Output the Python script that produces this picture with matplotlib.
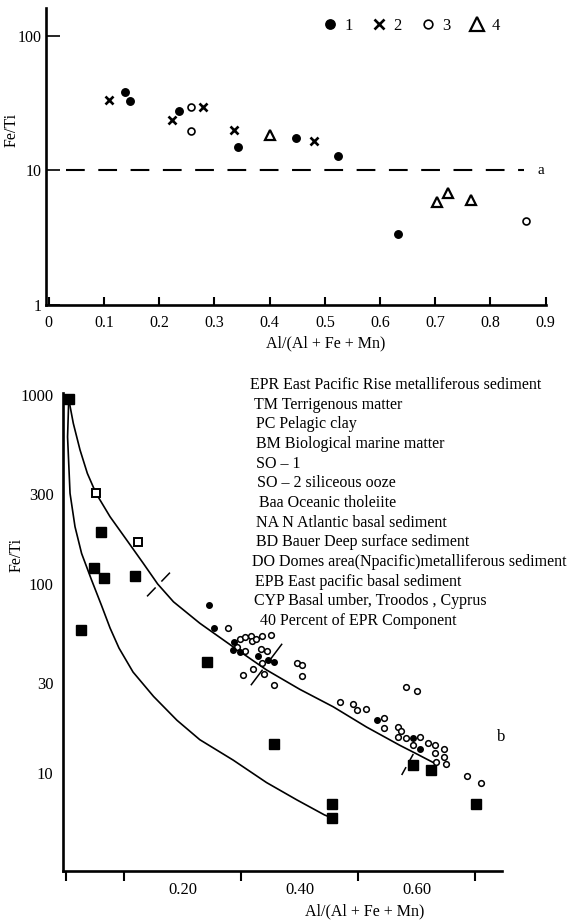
import numpy as np
import matplotlib
matplotlib.use("Agg")
import matplotlib.pyplot as plt
from matplotlib.path import Path

plt.rcParams['font.family'] = ['Liberation Serif', 'DejaVu Serif']

# ---------------- Panel a data ----------------
a_g1_x = [0.138, 0.147, 0.236, 0.343, 0.447, 0.523, 0.632]
a_g1_y = [38.4, 32.7, 27.4, 15.0, 17.3, 12.8, 3.36]
a_g2_x = [0.109, 0.223, 0.279, 0.336, 0.480]
a_g2_y = [33.3, 23.7, 29.6, 19.8, 16.5]
a_g3_x = [0.257, 0.257, 0.865]
a_g3_y = [29.6, 19.4, 4.22]
a_g4_x = [0.400, 0.703, 0.723, 0.765]
a_g4_y = [18.2, 5.78, 6.82, 6.05]
a_ref_level = 10
a_ref_x = [0.031, 0.861]
a_xticks = [0, 0.1, 0.2, 0.3, 0.4, 0.5, 0.6, 0.7, 0.8, 0.9]
a_xticklabels = ["0", "0.1", "0.2", "0.3", "0.4", "0.5", "0.6", "0.7", "0.8", "0.9"]
a_yticks = [1, 10, 100]
a_yticklabels = ["1", "10", "100"]
a_legend_labels = ["1", "2", "3", "4"]

# ---------------- Panel b data ----------------
b_fsq_x = [0.005, 0.060, 0.049, 0.065, 0.118, 0.026, 0.242, 0.355, 0.455, 0.455, 0.594, 0.624, 0.701]
b_fsq_y = [950, 189, 122, 108, 110, 57, 38.6, 14.2, 6.86, 5.78, 11.0, 10.4, 6.86]
b_osq_x = [0.052, 0.124]
b_osq_y = [302, 167]
b_dot_x = [0.244, 0.254, 0.288, 0.286, 0.298, 0.329, 0.346, 0.356, 0.531, 0.594, 0.605]
b_dot_y = [77.7, 58.4, 49.6, 44.8, 43.8, 41.6, 39.6, 38.7, 19.1, 15.4, 13.4]
b_circ_x = [0.277, 0.297, 0.306, 0.316, 0.318, 0.325, 0.335, 0.350, 0.292, 0.306,
            0.334, 0.344, 0.335, 0.320, 0.302, 0.339, 0.355, 0.395, 0.403, 0.403,
            0.469, 0.490, 0.498, 0.513, 0.543, 0.544, 0.581, 0.600, 0.567, 0.573,
            0.567, 0.582, 0.605, 0.594, 0.619, 0.631, 0.647, 0.631, 0.647, 0.632,
            0.649, 0.685, 0.709]
b_circ_y = [58.4, 51.2, 52.2, 53.1, 50.1, 51.2, 53.1, 54.0, 46.6, 44.4,
            45.1, 44.4, 38.0, 35.4, 33.1, 33.4, 29.2, 38.0, 37.1, 32.7,
            23.8, 23.3, 21.5, 21.9, 19.5, 17.2, 28.6, 27.3, 17.5, 16.7,
            15.5, 15.4, 15.5, 14.0, 14.4, 14.1, 13.4, 12.8, 12.2, 11.4,
            11.1, 9.64, 8.9]
# mixing curves
b_up_x = [0.005, 0.0128, 0.0243, 0.0368, 0.0516, 0.0756, 0.104, 0.1325, 0.157, 0.184,
          0.229, 0.286, 0.343, 0.400, 0.457, 0.514, 0.571, 0.600, 0.627]
b_up_y = [950, 708, 512, 385, 302, 227, 171, 128.5, 100, 80.5,
          62, 46.5, 35.1, 27.7, 22.4, 17.5, 14.0, 12.6, 11.4]
b_lo_x = [0.005, 0.003, 0.0072, 0.0157, 0.027, 0.044, 0.061, 0.0756, 0.0909, 0.1149,
          0.150, 0.190, 0.229, 0.286, 0.343, 0.395, 0.442, 0.455]
b_lo_y = [950, 600, 302, 201, 145, 105, 77, 58.5, 45.8, 34.2,
          25.4, 19.0, 15.0, 11.7, 8.9, 7.2, 6.0, 5.78]
# percent marks on the upper curve
b_mark_x = [0.157, 0.342, 0.583]
b_mark_y = [100, 37.8, 11.2]
b_mark_angle = [46, 53, 61]
b_mark_len = [33, 52, 24]
b_xticks = [0.2, 0.4, 0.6]
b_xticklabels = ["0.20", "0.40", "0.60"]
b_xminor = [0.0, 0.1, 0.3, 0.5, 0.7]
b_yticks = [10, 30, 100, 300, 1000]
b_yticklabels = ["10", "30", "100", "300", "1000"]
b_notes = ["EPR East Pacific Rise metalliferous sediment",
           "TM Terrigenous matter",
           "PC Pelagic clay",
           "BM Biological marine matter",
           "SO \u2013 1",
           "SO \u2013 2 siliceous ooze",
           "Baa Oceanic tholeiite",
           "NA N Atlantic basal sediment",
           "BD Bauer Deep surface sediment",
           "DO Domes area(Npacific)metalliferous sediment",
           "EPB East pacific basal sediment",
           "CYP Basal umber, Troodos , Cyprus",
           "40 Percent of EPR Component"]
b_note_indent = [0, 4, 6, 6, 6, 7, 9, 6, 6, 2, 5, 4, 10]

W, H = 569, 921
fig = plt.figure(figsize=(W / 100, H / 100), dpi=100)

# ---------------- Panel a ----------------
ax1 = fig.add_axes([45.7 / W, 1 - 305 / H, 500 / W, 297 / H])
ax1.set_yscale('log')
ax1.set_xlim(-0.0056, 0.9)
ax1.set_ylim(1, 160)
for s in ['top', 'right']:
    ax1.spines[s].set_visible(False)
for s in ['left', 'bottom']:
    ax1.spines[s].set_linewidth(1.9)

h1, = ax1.plot(a_g1_x, a_g1_y, 'o', ms=5.4, color='black', mec='black', ls='none')
h2, = ax1.plot(a_g2_x, a_g2_y, 'x', ms=6.2, mew=1.9, color='black', ls='none')
h3, = ax1.plot(a_g3_x, a_g3_y, 'o', ms=5.0, mfc='white', mec='black', mew=1.2, ls='none')
h4, = ax1.plot(a_g4_x, a_g4_y, '^', ms=7.5, mfc='white', mec='black', mew=1.6, ls='none')
ax1.plot(a_ref_x, [a_ref_level, a_ref_level], color='black', lw=1.5,
         dashes=(9, 6.5))
ax1.text(0.886, a_ref_level, "a", fontsize=11, va='center', ha='left')

ax1.set_xticks(a_xticks)
ax1.set_xticklabels(a_xticklabels)
ax1.set_yticks(a_yticks)
ax1.set_yticklabels(a_yticklabels)
ax1.yaxis.set_minor_locator(matplotlib.ticker.NullLocator())
ax1.tick_params(axis='x', direction='in', length=6, width=1.5, pad=7, labelsize=11.5)
ax1.tick_params(axis='y', direction='in', length=10, width=1.2, pad=3, labelsize=11.5)
ax1.set_ylabel("Fe/Ti", fontsize=11.5)
ax1.set_xlabel("Al/(Al + Fe + Mn)", fontsize=11.5)
ax1.xaxis.set_label_coords((326 - 45.7) / 500, -(335 - 305) / 297)
ax1.yaxis.set_label_coords(-(45.7 - 20) / 500, (305 - 130) / 297)

leg = ax1.legend([h1, h2, h3, h4], a_legend_labels, ncol=4, frameon=False,
                 loc='upper left', bbox_to_anchor=((315 - 45.7) / 500, 0.99),
                 handlelength=1.0, handletextpad=0.35, columnspacing=1.1,
                 fontsize=12, borderaxespad=0, markerscale=1.25)

# ---------------- Panel b ----------------
ax2 = fig.add_axes([63.3 / W, 1 - 870.7 / H, 439 / W, 477.7 / H])
ax2.set_yscale('log')
ax2.set_xlim(-0.0043, 0.746)
ax2.set_ylim(3.04, 1025)
for s in ['top', 'right']:
    ax2.spines[s].set_visible(False)
for s in ['left', 'bottom']:
    ax2.spines[s].set_linewidth(1.9)

ax2.plot(b_up_x, b_up_y, color='black', lw=1.2)
ax2.plot(b_lo_x, b_lo_y, color='black', lw=1.2)
ax2.plot(b_fsq_x, b_fsq_y, 's', ms=6.6, color='black', ls='none')
ax2.plot(b_osq_x, b_osq_y, 's', ms=6.0, mfc='white', mec='black', mew=1.4, ls='none')
ax2.plot(b_circ_x, b_circ_y, 'o', ms=4.1, mfc='white', mec='black', mew=1.1, ls='none')
ax2.plot(b_dot_x, b_dot_y, 'o', ms=4.0, color='black', ls='none')

for mx, my, ang, ln in zip(b_mark_x, b_mark_y, b_mark_angle, b_mark_len):
    c, s_ = np.cos(np.radians(ang)), np.sin(np.radians(ang))
    g = 0.25
    verts = [(-c, -s_), (-g * c, -g * s_), (g * c, g * s_), (c, s_)]
    codes = [Path.MOVETO, Path.LINETO, Path.MOVETO, Path.LINETO]
    ms_pt = ln * 0.72 * max(c, s_)
    ax2.plot([mx], [my], marker=Path(verts, codes), ms=ms_pt, mew=1.1,
             color='black', ls='none')

ax2.set_xticks(b_xticks)
ax2.set_xticklabels(b_xticklabels)
ax2.set_xticks(b_xminor, minor=True)
ax2.set_yticks(b_yticks)
ax2.set_yticklabels(b_yticklabels)
ax2.yaxis.set_minor_locator(matplotlib.ticker.NullLocator())
ax2.tick_params(axis='x', which='major', length=0, pad=8, labelsize=12)
ax2.tick_params(axis='x', which='minor', direction='out', length=7, width=1.5)
ax2.tick_params(axis='y', length=0, pad=7, labelsize=12)
ax2.set_xlabel("Al/(Al + Fe + Mn)", fontsize=11.5)
ax2.xaxis.set_label_coords((365 - 63.3) / 439, -(903 - 870.7) / 477.7)
ax2.set_ylabel("Fe/Ti", fontsize=11.5)
ax2.yaxis.set_label_coords(-(63.3 - 25) / 439, (870.7 - 555) / 477.7)
ax2.text((500.7 - 63.3) / 439, (870.7 - 737.3) / 477.7, "b", fontsize=12,
         transform=ax2.transAxes, ha='center', va='center')

for i, (txt, ind) in enumerate(zip(b_notes, b_note_indent)):
    fig.text((250 + ind) / W, 1 - (385 + i * 19.67) / H, txt, fontsize=11.5,
             ha='left', va='center')

fig.savefig("out.png", dpi=100)
